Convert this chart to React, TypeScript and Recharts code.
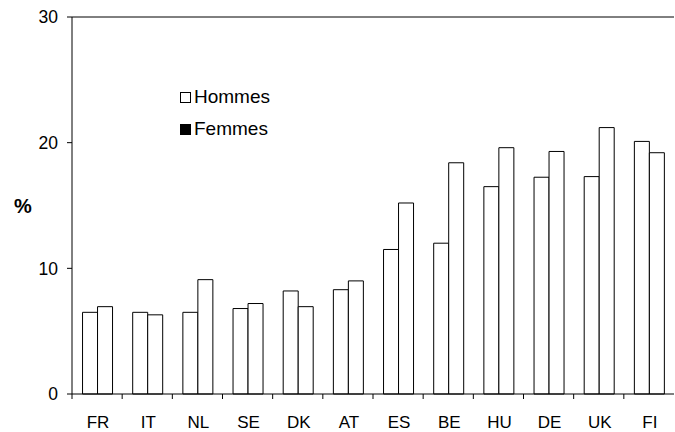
import { BarChart, Bar, XAxis, YAxis, Legend, ReferenceLine } from 'recharts';

const countries = ['FR', 'IT', 'NL', 'SE', 'DK', 'AT', 'ES', 'BE', 'HU', 'DE', 'UK', 'FI'];
const hommes = [6.5, 6.5, 6.5, 6.8, 8.2, 8.3, 11.5, 12.0, 16.5, 17.25, 17.3, 20.1];
const femmes = [6.95, 6.3, 9.1, 7.2, 6.95, 9.0, 15.2, 18.4, 19.6, 19.3, 21.2, 19.2];
const yTicks = [0, 10, 20, 30];
const legendItems = [
  { label: 'Hommes', swatch: '#fff' },
  { label: 'Femmes', swatch: '#000' },
];

const rows = countries.map((c, i) => ({ country: c, Hommes: hommes[i], Femmes: femmes[i] }));

const font = '"Liberation Sans", Arial, sans-serif';

function CountryTick(props: any) {
  const { x, y, payload } = props;
  const left = x - (payload.offset ?? 0);
  return (
    <g>
      <line x1={left} x2={left} y1={y} y2={y + 5} stroke="#000" />
      <text x={x + 1} y={y + 34} textAnchor="middle" fontSize={17} fontFamily={font} fill="#000">
        {payload.value}
      </text>
    </g>
  );
}

function LegendBox() {
  return (
    <div style={{ fontFamily: font, fontSize: 19, color: '#000' }}>
      {legendItems.map((item) => (
        <div key={item.label} style={{ display: 'flex', alignItems: 'center', height: 20, marginBottom: 12 }}>
          <span
            style={{
              width: 9,
              height: 9,
              border: '1px solid #000',
              background: item.swatch,
              marginRight: 3,
            }}
          />
          <span>{item.label}</span>
        </div>
      ))}
    </div>
  );
}

export default function App() {
  return (
    <div>
      <style>{`body{margin:0;background:#fff}`}</style>
      <BarChart
        width={675}
        height={432}
        data={rows}
        margin={{ top: 17, right: 1, bottom: 0, left: 0 }}
        barCategoryGap="21%"
        barGap={0}
      >
        <XAxis
          dataKey="country"
          height={38}
          tickLine={false}
          tickSize={0}
          tickMargin={0}
          axisLine={{ stroke: '#000' }}
          tick={<CountryTick />}
          interval={0}
        />
        <YAxis
          width={72}
          domain={[0, 30]}
          ticks={yTicks}
          tickSize={5}
          tickMargin={9}
          axisLine={{ stroke: '#000' }}
          tickLine={{ stroke: '#000' }}
          tick={{ fill: '#000', fontSize: 17.5, fontFamily: font }}
          label={{
            value: '%',
            position: 'insideLeft',
            offset: 14,
            fill: '#000',
            fontSize: 20,
            fontWeight: 'bold',
            fontFamily: font,
          }}
        />
        <ReferenceLine y={30} stroke="#000" />
        <Legend
          layout="vertical"
          align="center"
          verticalAlign="middle"
          content={<LegendBox />}
          wrapperStyle={{ left: 180, top: 87, width: 'auto' }}
        />
        <Bar dataKey="Hommes" fill="#fff" stroke="#000" strokeWidth={1} isAnimationActive={false} />
        <Bar dataKey="Femmes" fill="#fff" stroke="#000" strokeWidth={1} isAnimationActive={false} />
      </BarChart>
    </div>
  );
}
